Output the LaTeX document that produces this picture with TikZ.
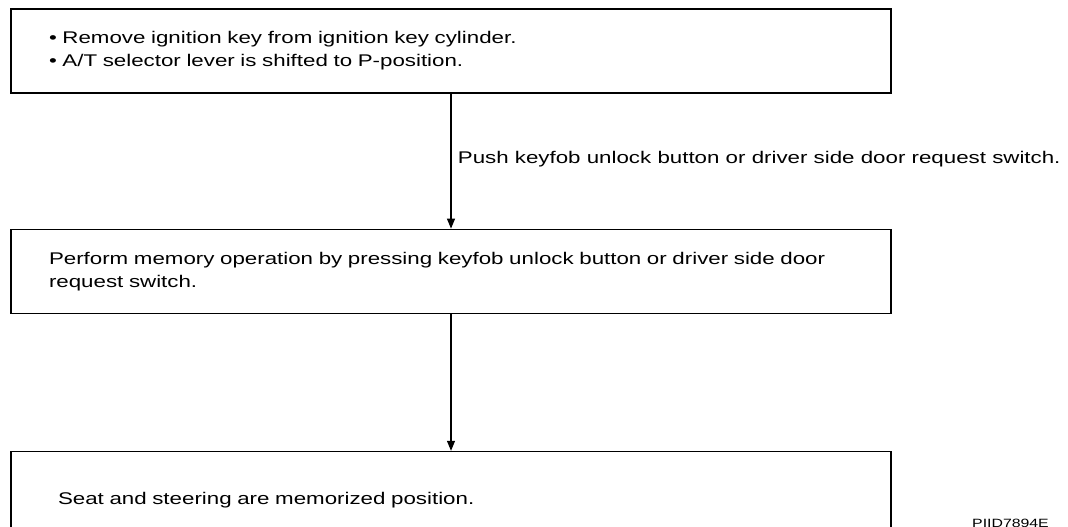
\documentclass[tikz,border=0pt]{standalone}
\usepackage{fontspec}
\setmainfont{Liberation Sans}[FakeStretch=1.32]
\usetikzlibrary{positioning,arrows.meta}

\begin{document}
\begin{tikzpicture}[
  x=1pt, y=-1pt,
  % Common text size
  every node/.style={font=\fontsize{16.9}{23}\selectfont},
  % Flow chart boxes
  stepbox/.style={draw, rectangle, line width=1.2pt, text width=804pt, inner xsep=38pt, inner ysep=0pt, minimum height=84pt, align=left},
  lastbox/.style={stepbox, text width=786pt, inner xsep=47pt, minimum height=98pt},
  % Arrows between boxes
  flow/.style={-{Triangle[length=10pt,width=8pt]}, line width=1.1pt}
]
\useasboundingbox (0,0) rectangle (1068,527);

% Boxes
\node[stepbox] (keyoff) at (451,51)
  {\textbullet\ Remove ignition key from ignition key cylinder.\\
   \textbullet\ A/T selector lever is shifted to P-position.};
\node[stepbox, below=135pt of keyoff] (memop)
  {Perform memory operation by pressing keyfob unlock button or driver side door\\
   request switch.};
\node[lastbox, below=137pt of memop] (memorized)
  {Seat and steering are memorized position.};

% Arrows
\draw[flow] (keyoff) -- (memop)
  node[midway, right, xshift=3pt, yshift=2pt] (pushlabel) {Push keyfob unlock button or driver side door request switch.};
\draw[flow] (memop) -- (memorized);

% Figure code
\node[font=\fontsize{12}{14}\selectfont, anchor=north west, inner sep=0pt] (figcode) at (972,519) {PIID7894E};

\end{tikzpicture}
\end{document}
